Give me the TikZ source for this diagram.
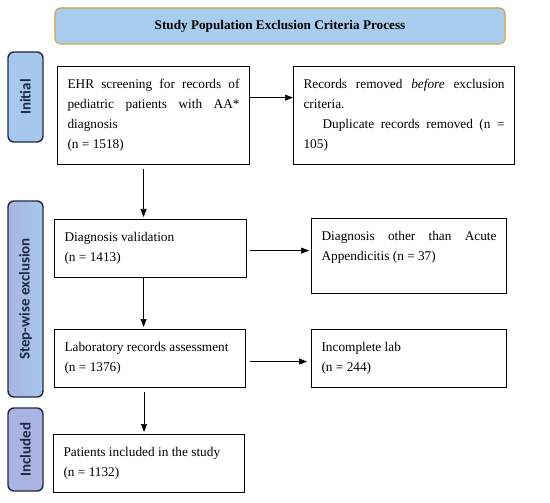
\documentclass[tikz,border=0pt]{standalone}
\usepackage{fontspec}
\setmainfont{Liberation Serif}
\newfontfamily\tabfont{Carlito}
\usepackage{xcolor}
\usepackage{tikz}
\usetikzlibrary{arrows.meta}
\definecolor{epTitle}{RGB}{169,205,238}
\definecolor{epTitleLine}{RGB}{214,160,74}
\definecolor{epTab}{RGB}{166,200,236}
\definecolor{epTabLow}{RGB}{169,180,226}
\definecolor{epNavy}{RGB}{30,42,68}

\begin{document}
\begin{tikzpicture}[x=1pt, y=1pt,
    stage/.style={draw=black, line width=1.1pt, anchor=north west, align=justify,
      inner xsep=10pt, inner ysep=13pt, font=\fontsize{13.3}{20}\selectfont},
    tab/.style={draw=epNavy, line width=1.4pt, rounded corners=6pt, rotate=90,
      minimum height=35pt, inner sep=0pt, text=epNavy,
      font=\tabfont\fontsize{15}{16}\selectfont\bfseries},
    flow/.style={-{Triangle[length=8pt,width=6pt]}, line width=0.7pt}
  ]
    \useasboundingbox (0,0) rectangle (550,-503);
    \node[draw=epTitleLine, fill=epTitle, line width=1.1pt, rounded corners=5pt,
      minimum width=450pt, minimum height=36pt,
      font=\fontsize{13.2}{15}\selectfont\bfseries] (t0) at (280,-26) {Study Population Exclusion Criteria Process};
    \node[tab, fill=epTab, minimum width=90pt] (s1) at (25.5,-97) {Initial};
    \node[tab, left color=epTabLow, right color=epTab, minimum width=196pt] (s2) at (25.5,-299) {Step-wise exclusion};
    \node[tab, fill=epTabLow, minimum width=83pt] (s3) at (25.5,-449.5) {Included};
    \node[stage, text width=172pt] (r1) at (57,-66) {EHR screening for records of\linebreak pediatric patients with AA*\linebreak diagnosis\\(n = 1518)};
    \node[stage, text width=201pt] (r2) at (293,-66) {Records removed \textit{before} exclusion\linebreak criteria.\par\hspace*{19pt}Duplicate records removed (n =\linebreak 105)};
    \node[stage, text width=172pt] (r3) at (54,-219) {Diagnosis validation\\(n = 1413)};
    \node[stage, text width=175pt] (r4) at (311,-218) {Diagnosis other than Acute\linebreak Appendicitis (n = 37)\par\noindent\rule{0pt}{17pt}};
    \node[stage, text width=171pt] (r5) at (54,-329) {Laboratory records assessment\\(n = 1376)};
    \node[stage, text width=175pt] (r6) at (311,-329) {Incomplete lab\\(n = 244)};
    \node[stage, text width=171pt] (r7) at (53,-434) {Patients included in the study\\(n = 1132)};
    \draw[flow] ([yshift=18pt]r1.east) -- ([yshift=18pt]r1.east -| r2.west);
    \draw[flow, shorten <=3pt, shorten >=2pt] ([yshift=-2pt]r3.east) -- ([yshift=-2pt]r3.east -| r4.west);
    \draw[flow, shorten <=4pt, shorten >=4pt] ([yshift=-3pt]r5.east) -- ([yshift=-3pt]r5.east -| r6.west);
    \draw[flow, shorten <=4pt, shorten >=2pt] ([xshift=-10pt]r1.south) -- ([xshift=-10pt]r1.south |- r3.north);
    \draw[flow, shorten >=2pt] ([xshift=-7pt]r3.south) -- ([xshift=-7pt]r3.south |- r5.north);
    \draw[flow, shorten <=4pt, shorten >=2pt] ([xshift=-6pt]r5.south) -- ([xshift=-6pt]r5.south |- r7.north);
  \end{tikzpicture}
\end{document}
